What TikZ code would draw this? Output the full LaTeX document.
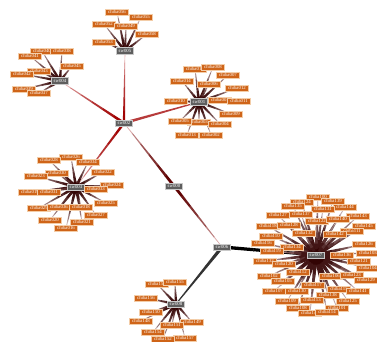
\documentclass[tikz,border=0pt]{standalone}
\usepackage{fontspec}
\setmainfont{Liberation Serif}
\usetikzlibrary{calc}
\pgfdeclarelayer{paper}
\pgfdeclarelayer{edges}
\pgfsetlayers{paper,edges,main}
\definecolor{leaforange}{HTML}{CF6418}
\definecolor{leafrim}{HTML}{F3CDA8}
\definecolor{hubgrey}{HTML}{5E5E5E}
\definecolor{hubrim}{HTML}{C9C9C9}
\definecolor{spoke}{HTML}{300000}
\definecolor{spokeend}{HTML}{D2BDBD}
\definecolor{linkred}{HTML}{A00000}
\definecolor{linkdark}{HTML}{5E0000}
\definecolor{linkpink}{HTML}{EDC4C4}
\tikzset{
  leaf/.style={draw=leafrim, line width=0.4pt, fill=leaforange, text=white,
    font=\fontsize{4.8}{5}\selectfont, minimum width=23pt, minimum height=6pt,
    inner sep=0.4pt},
  hub/.style={draw=hubrim, line width=0.5pt, fill=hubgrey, text=white,
    font=\fontsize{4.8}{5}\selectfont, minimum width=17pt, minimum height=6.5pt,
    inner sep=0.4pt}
}
% tapered link: start node, end node, width at start, width at end,
% colour at start, colour at end
\makeatletter
\newcommand\taper[6]{%
  \pgfpointdiff{\pgfpointanchor{#1}{center}}{\pgfpointanchor{#2}{center}}%
  \edef\tpdx{\strip@pt\pgf@x}\edef\tpdy{\strip@pt\pgf@y}%
  \pgfmathsetmacro\tplen{veclen(\tpdx,\tpdy)}%
  \pgfmathsetmacro\tpang{atan2(\tpdy,\tpdx)}%
  \begin{scope}[shift={(#1)}, rotate=\tpang, x=1pt, y=1pt]
    \foreach \k in {0,...,5}{%
      \pgfmathsetmacro\ta{\k/6*\tplen}%
      \pgfmathsetmacro\tb{(\k+1)/6*\tplen+0.3}%
      \pgfmathsetmacro\wa{(#3+(#4-#3)*\k/6)/2}%
      \pgfmathsetmacro\wb{(#3+(#4-#3)*(\k+1)/6)/2}%
      \pgfmathtruncatemacro\mx{100-100*((\k+0.5)/6)^1.6}%
      \fill[#5!\mx!#6] (\ta,\wa) -- (\tb,\wb) -- (\tb,-\wb) -- (\ta,-\wa) -- cycle;
    }%
  \end{scope}%
}
\makeatother
% a switch with its ring of leaf labels
\newcommand\leafset[3]{%
  \foreach \x/\y/\t [count=\i] in {#3} {%
    \node[leaf] (#1-\i) at (\x,\y) {\t};
    \begin{pgfonlayer}{edges}\taper{#1}{#1-\i}{#2}{0.4}{spoke}{spokeend}\end{pgfonlayer}
  }%
}
\begin{document}
\begin{tikzpicture}[x=1pt, y=-1pt]
\useasboundingbox (0,0) rectangle (377,342);
\begin{pgfonlayer}{paper}
\fill[white] (0,0) rectangle (377,342);
\end{pgfonlayer}

% switches
\node[hub] (sw005) at (125,51) {sw005};
\node[hub] (sw004) at (60,81) {sw004};
\node[hub] (sw002) at (124,123) {sw002};
\node[hub] (sw001) at (199,102) {sw001};
\node[hub] (sw003) at (76,187) {sw003};
\node[hub] (sw000) at (174,186) {sw000};
\node[hub] (sw006) at (222,247) {sw006};
\node[hub] (sw007) at (316,255) {sw007};
\node[hub] (sw008) at (176,304) {sw008};

% links between switches
\begin{pgfonlayer}{edges}
\taper{sw002}{sw005}{2.4}{0.5}{linkred}{linkpink}
\taper{sw002}{sw004}{2.8}{0.5}{linkred}{linkpink}
\taper{sw002}{sw001}{2.8}{1.0}{linkred}{linkred!70!linkpink}
\taper{sw002}{sw003}{2.6}{0.5}{linkred}{linkpink}
\taper{sw000}{sw002}{3.0}{0.5}{linkdark}{linkpink}
\taper{sw000}{sw006}{3.0}{0.5}{linkdark}{linkpink}
\taper{sw006}{sw007}{3.4}{2.8}{black}{black}
\taper{sw006}{sw008}{3.4}{1.0}{black}{black!80}
\end{pgfonlayer}

% leaves
\leafset{sw005}{3.0}{117/12/chiba056, 141/17/chiba055, 104/24/chiba052,
  126/26/chiba049, 147/34/chiba058, 104/42/chiba053}

\leafset{sw004}{3.0}{42/51/chiba040, 62/51/chiba038, 39/71/chiba043,
  30/56/chiba041, 72/66/chiba045, 22/74/chiba042, 24/89/chiba039,
  39/93/chiba037}

\leafset{sw001}{3.0}{195/69/chiba015, 213/67/chiba008, 228/75/chiba007,
  182/81/chiba014, 209/84/chiba006, 237/88/chiba012, 176/101/chiba010,
  220/100/chiba001, 239/101/chiba011, 231/114/chiba009, 199/122/chiba003,
  180/121/chiba005, 220/124/chiba004, 187/135/chiba013, 211/135/chiba002}

\leafset{sw003}{3.2}{71/157/chiba026, 49/160/chiba028, 88/162/chiba034,
  57/173/chiba030, 103/172/chiba022, 36/176/chiba023, 112/185/chiba024,
  96/189/chiba033, 30/192/chiba019, 49/192/chiba031, 106/203/chiba025,
  39/208/chiba029, 59/207/chiba036, 81/207/chiba018, 96/215/chiba027,
  66/228/chiba016, 50/220/chiba020, 82/222/chiba021}

\leafset{sw007}{4.2}{318/197/chiba100, 302/202/chiba124, 333/201/chiba139,
  293/206/chiba135, 345/207/chiba144, 323/209/chiba131, 278/215/chiba127,
  301/214/chiba137, 358/216/chiba143, 317/221/chiba122, 338/219/chiba140,
  268/226/chiba118, 289/225/chiba128, 364/226/chiba145, 352/231/chiba111,
  304/233/chiba132, 335/234/chiba142, 271/236/chiba110, 364/244/chiba126,
  263/243/chiba116, 292/247/chiba134, 272/251/chiba119, 342/255/chiba136,
  368/253/chiba103, 265/261/chiba133, 284/264/chiba120, 359/261/chiba121,
  368/268/chiba104, 269/276/chiba102, 298/272/chiba112, 331/276/chiba106,
  352/275/chiba123, 366/280/chiba129, 283/281/chiba105, 313/285/chiba117,
  274/291/chiba107, 297/291/chiba130, 339/289/chiba115, 358/291/chiba141,
  328/295/chiba138, 287/301/chiba109, 312/300/chiba113, 348/301/chiba125,
  298/308/chiba108, 337/308/chiba101, 310/313/chiba146, 327/312/chiba114}

\leafset{sw008}{3.0}{157/284/chiba158, 175/282/chiba155, 146/298/chiba156,
  151/312/chiba150, 141/321/chiba148, 192/322/chiba149, 172/325/chiba151,
  153/332/chiba154, 185/338/chiba157, 163/339/chiba152}
\end{tikzpicture}
\end{document}
